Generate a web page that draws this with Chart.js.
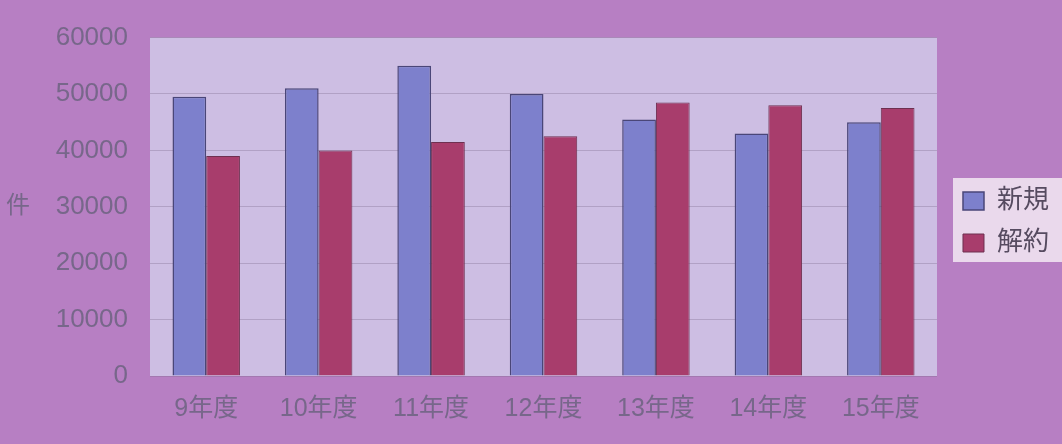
<!DOCTYPE html>
<html lang="ja">
<head>
<meta charset="utf-8">
<script src="https://cdn.jsdelivr.net/npm/chart.js@4.4.1/dist/chart.umd.min.js"></script>
<style>
html, body { margin: 0; padding: 0; background: #b77fc3; }
#wrap { width: 1062px; height: 444px; }
</style>
</head>
<body>
<div id="wrap"><canvas id="kensuChart"></canvas></div>
<script>
// data
const years = ["9年度", "10年度", "11年度", "12年度", "13年度", "14年度", "15年度"];
const shinki = [49500, 51000, 55000, 50000, 45500, 43000, 45000];   // 新規
const kaiyaku = [39000, 40000, 41500, 42500, 48500, 48000, 47500];  // 解約
const yMin = 0;
const yMax = 60000;
const yStep = 10000;

const tickColor = "#77678a";
const fontName = "'Liberation Sans', 'Noto Sans CJK JP', sans-serif";

// purple page, lavender plot area, light legend box and the 件 label
const backdrop = {
    id: "backdrop",
    beforeDraw(chart) {
        const ctx = chart.ctx;
        const a = chart.chartArea;
        ctx.save();
        ctx.fillStyle = "#b77fc3";
        ctx.fillRect(0, 0, chart.width, chart.height);
        ctx.fillStyle = "#cdbee3";
        ctx.fillRect(a.left, a.top, a.right - a.left, a.bottom - a.top);

        const boxes = chart.legend.legendHitBoxes;
        if (boxes && boxes.length) {
            const top = Math.min(...boxes.map(b => b.top)) - 10;
            const bottom = Math.max(...boxes.map(b => b.top + b.height)) + 6;
            const left = boxes[0].left - 10;
            ctx.fillStyle = "#ead9ec";
            ctx.fillRect(left, top, chart.width - left, bottom - top);
        }
        ctx.restore();
    },
    afterDraw(chart) {
        const ctx = chart.ctx;
        const a = chart.chartArea;
        ctx.save();
        ctx.fillStyle = tickColor;
        ctx.font = "24px " + fontName;
        ctx.textAlign = "center";
        ctx.textBaseline = "middle";
        ctx.fillText("件", 18, a.top + (a.bottom - a.top) / 2);
        ctx.restore();
    }
};

const kensuData = {
    labels: years,
    datasets: [{
        label: "新規",
        data: shinki,
        backgroundColor: "#7d80cc",
        borderColor: "#4a4678",
        borderWidth: 1.5,
        categoryPercentage: 0.6,
        barPercentage: 1.0
    }, {
        label: "解約",
        data: kaiyaku,
        backgroundColor: "#a83d6c",
        borderColor: "#6e3050",
        borderWidth: 1,
        categoryPercentage: 0.6,
        barPercentage: 1.0
    }]
};

const kensuConfig = {
    type: "bar",
    data: kensuData,
    plugins: [backdrop],
    options: {
        responsive: true,
        maintainAspectRatio: false,
        animation: false,
        layout: { padding: { top: 30, right: 3, bottom: 0, left: 0 } },
        scales: {
            x: {
                grid: { display: false },
                border: { display: false },
                ticks: {
                    color: tickColor,
                    font: { size: 25, family: fontName },
                    padding: 10,
                    maxRotation: 0
                },
                afterFit: (scale) => { scale.height = 68; }
            },
            y: {
                min: yMin,
                max: yMax,
                grid: { color: "rgba(125,110,140,0.35)", drawTicks: false },
                border: { display: false },
                ticks: {
                    stepSize: yStep,
                    color: tickColor,
                    font: { size: 26, family: fontName },
                    padding: 22,
                    callback: (value) => String(value)
                },
                afterFit: (scale) => { scale.width = 150; }
            },
            // empty axis, only keeps a gap between plot and legend
            gap: {
                type: "linear",
                position: "right",
                grid: { display: false },
                border: { display: false },
                ticks: { display: false },
                afterFit: (scale) => { scale.width = 10; }
            }
        },
        plugins: {
            legend: {
                position: "right",
                align: "center",
                fullSize: false,
                title: { display: true, text: " ", font: { size: 12 }, padding: { top: 8, bottom: 8 } },
                labels: {
                    color: "#564b60",
                    font: { size: 26, family: fontName },
                    boxWidth: 21,
                    boxHeight: 18,
                    padding: 16
                }
            },
            tooltip: { enabled: false }
        }
    }
};

let kensuChart = new Chart(document.getElementById("kensuChart"), kensuConfig);
</script>
</body>
</html>
